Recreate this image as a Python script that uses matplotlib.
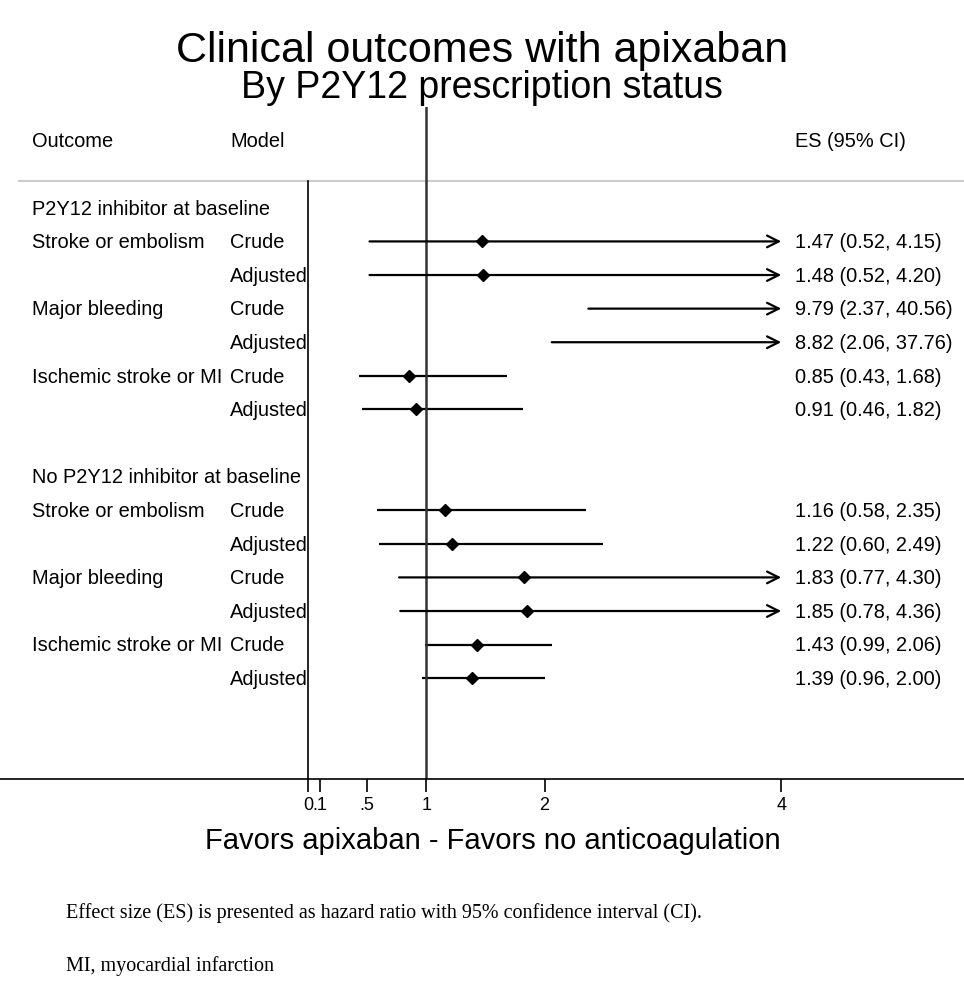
import numpy as np
import matplotlib
matplotlib.use("Agg")
import matplotlib.pyplot as plt

# datos
groups = ["P2Y12 inhibitor at baseline", "No P2Y12 inhibitor at baseline"]
outcomes = ["Stroke or embolism", "", "Major bleeding", "", "Ischemic stroke or MI", ""] * 2
models = ["Crude", "Adjusted"] * 6
es = [1.47, 1.48, 9.79, 8.82, 0.85, 0.91, 1.16, 1.22, 1.83, 1.85, 1.43, 1.39]
lo = [0.52, 0.52, 2.37, 2.06, 0.43, 0.46, 0.58, 0.60, 0.77, 0.78, 0.99, 0.96]
hi = [4.15, 4.20, 40.56, 37.76, 1.68, 1.82, 2.35, 2.49, 4.30, 4.36, 2.06, 2.00]
xticks = [0, 0.1, 0.5, 1, 2, 4]
xticklabels = ["0", ".1", ".5", "1", "2", "4"]
xmax = 4

plt.rcParams['font.family'] = ['Liberation Sans', 'DejaVu Sans']

fig = plt.figure(figsize=(9.64, 9.81), dpi=100)
ax = fig.add_axes([0, 0.2059, 1, 0.685])
ax.set_xlim(-2.6036, 5.5452)
ax.set_ylim(19, -1)

# filas: cabecera 0, grupos 2 y 10, datos 3..8 y 11..16
rows = list(range(3, 9)) + list(range(11, 17))
fs = 14.4
col_out, col_mod, col_es = -2.333, -0.659, 4.12
dy = 0.04  # pequeno ajuste vertical del texto

ax.text(col_out, 0 + dy, "Outcome", fontsize=fs, va='center')
ax.text(col_mod, 0 + dy, "Model", fontsize=fs, va='center')
ax.text(col_es, 0 + dy, "ES (95% CI)", fontsize=fs, va='center')
ax.text(col_out, 2 + dy, groups[0], fontsize=fs, va='center')
ax.text(col_out, 10 + dy, groups[1], fontsize=fs, va='center')

for i, y in enumerate(rows):
    ax.text(col_out, y + dy, outcomes[i], fontsize=fs, va='center')
    ax.text(col_mod, y + dy, models[i], fontsize=fs, va='center')
    ax.text(col_es, y + dy, f"{es[i]:.2f} ({lo[i]:.2f}, {hi[i]:.2f})", fontsize=fs, va='center')
    if hi[i] > xmax:
        ax.annotate('', xy=(xmax, y), xytext=(lo[i], y),
                    arrowprops=dict(arrowstyle='->', lw=1.6, color='black',
                                    mutation_scale=21, shrinkA=0, shrinkB=0))
    else:
        ax.plot([lo[i], hi[i]], [y, y], color='black', lw=1.6, solid_capstyle='butt')
    if es[i] <= xmax:
        ax.plot(es[i], y, marker='D', color='black', markersize=6)

# lineas de referencia
ax.plot([-2.44, 5.6], [1.19, 1.19], color='#cccccc', lw=1.5, clip_on=False)
ax.plot([0, 0], [1.19, 19], color='black', lw=1.2)
ax.axvline(1, color='#333333', lw=1.8)

for s in ['top', 'left', 'right']:
    ax.spines[s].set_visible(False)
ax.spines['bottom'].set_linewidth(1.2)
ax.set_yticks([])
ax.set_xticks(xticks)
ax.set_xticklabels(xticklabels, fontsize=13)
ax.tick_params(axis='x', length=9, width=1.2, pad=4)
ax.set_xlabel("Favors apixaban - Favors no anticoagulation", fontsize=21, labelpad=2)
ax.xaxis.set_label_coords(493 / 964, -0.072)

fig.text(0.5, 1 - 62 / 981, "Clinical outcomes with apixaban", fontsize=31, ha='center', va='baseline')
fig.text(0.5, 1 - 98 / 981, "By P2Y12 prescription status", fontsize=27, ha='center', va='baseline')

fig.text(66 / 964, 1 - 913 / 981,
         "Effect size (ES) is presented as hazard ratio with 95% confidence interval (CI).",
         fontsize=14.5, family='Liberation Serif', va='center')
fig.text(66 / 964, 1 - 966 / 981, "MI, myocardial infarction",
         fontsize=14.5, family='Liberation Serif', va='center')

fig.savefig("out.png", dpi=100)
